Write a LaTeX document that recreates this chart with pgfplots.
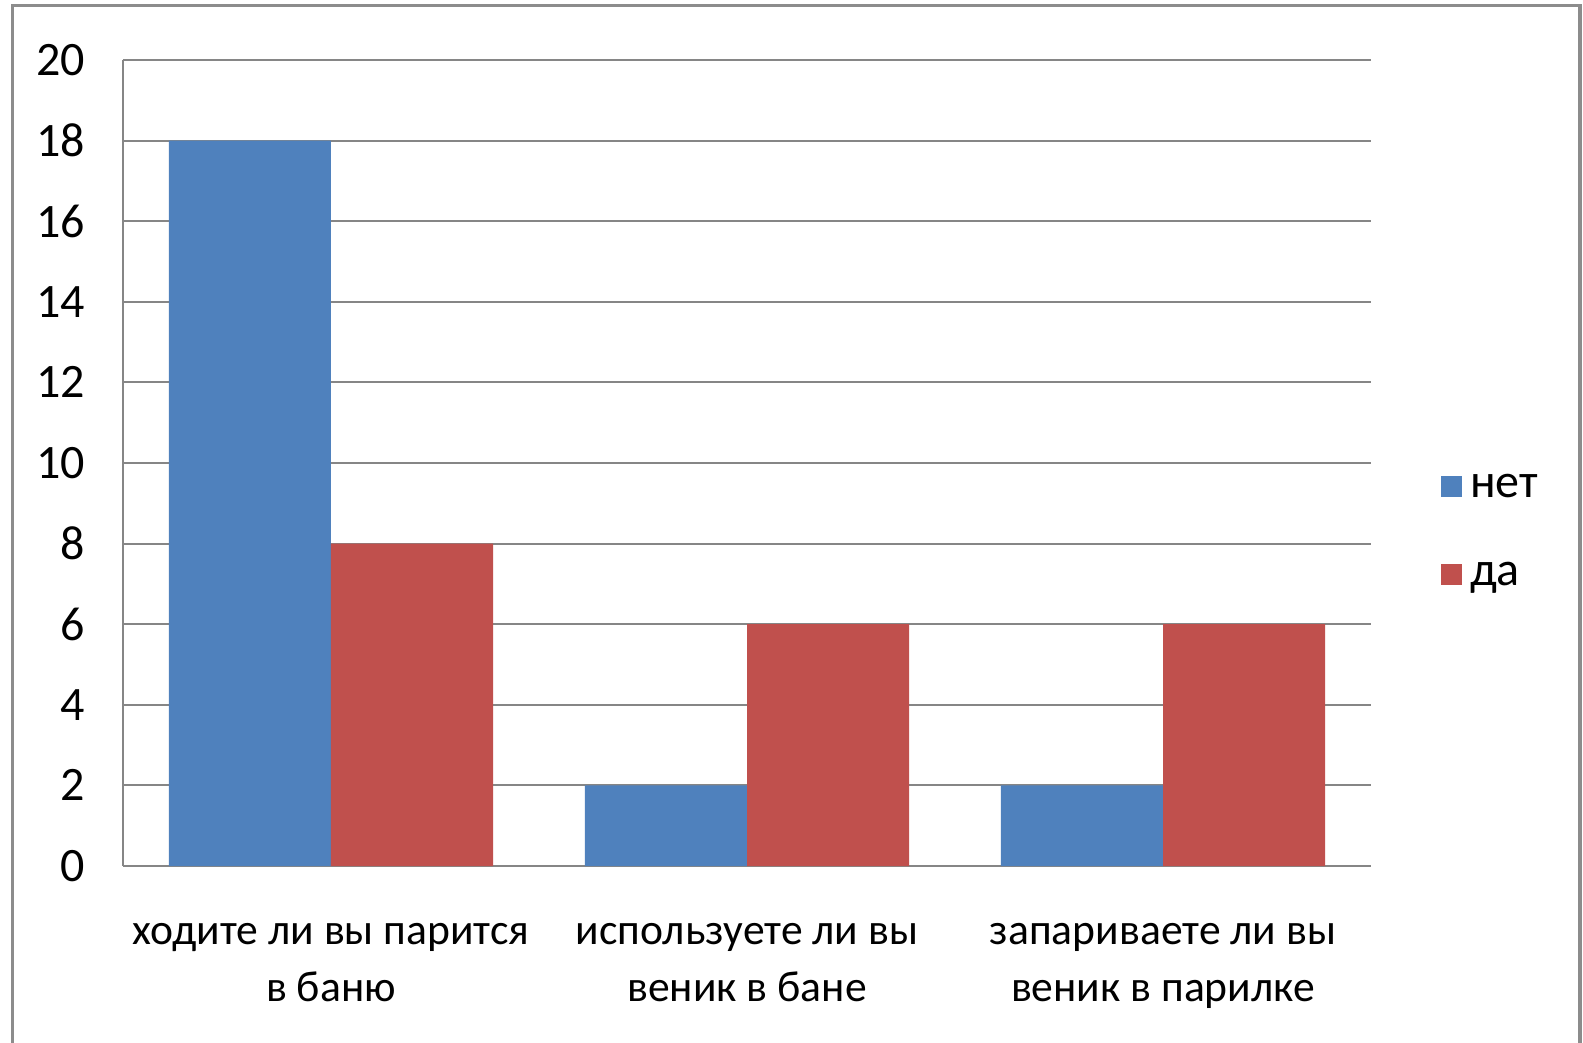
\documentclass[border=0pt]{standalone}
\usepackage{fontspec}
\setmainfont{Carlito}
\usepackage{pgfplots}
\pgfplotsset{compat=1.18}
\definecolor{exblue}{HTML}{4F81BD}
\definecolor{exred}{HTML}{C0504D}
\definecolor{gridgray}{HTML}{868686}
\definecolor{framegray}{HTML}{8C8C8C}
\begin{document}
\begin{tikzpicture}[x=0.25pt,y=0.25pt]
\useasboundingbox (-123,-176) rectangle (1460,866);
\draw[line width=0.8pt, color=framegray] (-110.5,-200) -- (-110.5,860.5) -- (1457,860.5) -- (1457,-200);
\begin{axis}[
  at={(0,0)}, anchor=south west,
  width=312pt, height=201.5pt, scale only axis,
  xmin=-0.5, xmax=2.5, ymin=0, ymax=20,
  ytick={0,2,...,20},
  xtick={0,1,2},
  xticklabels={{ходите ли вы парится\\в баню},{используете ли вы\\веник в бане},{запариваете ли вы\\веник в парилке}},
  axis x line*=bottom, axis y line*=left,
  axis line style={gridgray, line width=0.5pt, -},
  ymajorgrids, grid style={gridgray, line width=0.5pt},
  major tick length=0pt,
  tick label style={font=\fontsize{12}{14.25}\selectfont},
  /pgf/number format/assume math mode=true,
  yticklabel style={inner sep=0pt, anchor=east, xshift=-9.25pt},
  xticklabel style={inner sep=0pt, anchor=north, align=center, yshift=-14.1pt,
    font=\fontsize{10.9}{14.25}\selectfont},
  legend style={draw=none, fill=none, at={(1.0555,0.416)}, anchor=west,
    inner sep=0pt, font=\fontsize{12}{14.25}\selectfont,
    row sep=11.5pt, nodes={inner sep=0pt, text height=8pt, text depth=2.5pt}},
  legend cell align=left,
  legend image code/.code={\fill[#1] (0pt,-2.5pt) rectangle (5.25pt,2.75pt);},
]
\addplot[ybar, bar width=0.39, bar shift=-0.195, fill=exblue, draw=none] coordinates {(0,18) (1,2) (2,2)};
\addplot[ybar, bar width=0.39, bar shift=0.195, fill=exred, draw=none] coordinates {(0,8) (1,6) (2,6)};
\legend{\,нет,\,да}
\end{axis}
\end{tikzpicture}
\end{document}
